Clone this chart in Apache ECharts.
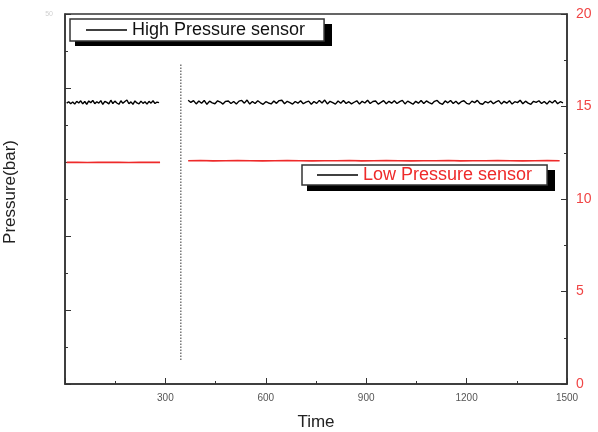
<!DOCTYPE html>
<html>
<head>
<meta charset="utf-8">
<title>Pressure sensors</title>
<script src="https://cdn.jsdelivr.net/npm/echarts@6/dist/echarts.min.js"></script>
<style>
  html, body { margin: 0; padding: 0; background: #fff; }
  #main { width: 598px; height: 432px; }
</style>
</head>
<body>
<div id="main"></div>
<script>
// 时间轴刻度
var timeTicks = [0, 300, 600, 900, 1200, 1500];
var rightTicks = [0, 5, 10, 15, 20];

// 高压传感器 (两段采样)
var highStartA = 5, highStepA = 6;
var highValuesA = [
  15.18, 15.26, 15.15, 15.24, 15.13, 15.28, 15.19, 15.31, 15.14, 15.27,
  15.12, 15.30, 15.20, 15.33, 15.15, 15.26, 15.18, 15.32, 15.11, 15.28,
  15.22, 15.14, 15.34, 15.16, 15.29, 15.19, 15.12, 15.31, 15.17, 15.27,
  15.35, 15.15, 15.25, 15.12, 15.30, 15.19, 15.14, 15.29, 15.17, 15.26,
  15.13, 15.28, 15.18, 15.31, 15.16, 15.24, 15.21
];
var highStartB = 368, highStepB = 8;
var highValuesB = [
  15.34, 15.22, 15.32, 15.14, 15.30, 15.18, 15.33, 15.12, 15.29, 15.20,
  15.15, 15.31, 15.24, 15.13, 15.28, 15.30, 15.16, 15.27, 15.14, 15.29,
  15.33, 15.18, 15.35, 15.13, 15.27, 15.16, 15.31, 15.20, 15.12, 15.26,
  15.19, 15.14, 15.30, 15.17, 15.32, 15.34, 15.15, 15.28, 15.21, 15.13,
  15.27, 15.18, 15.31, 15.15, 15.24, 15.29, 15.12, 15.27, 15.17, 15.33,
  15.19, 15.35, 15.14, 15.28, 15.21, 15.13, 15.30, 15.18, 15.32, 15.16,
  15.26, 15.14, 15.23, 15.31, 15.13, 15.28, 15.19, 15.34, 15.16, 15.27,
  15.30, 15.13, 15.22, 15.32, 15.15, 15.28, 15.18, 15.31, 15.16, 15.26,
  15.33, 15.14, 15.29, 15.21, 15.12, 15.28, 15.18, 15.32, 15.16, 15.30,
  15.21, 15.14, 15.28, 15.33, 15.18, 15.12, 15.30, 15.20, 15.32, 15.16,
  15.28, 15.14, 15.26, 15.31, 15.17, 15.13, 15.29, 15.21, 15.33, 15.16,
  15.12, 15.27, 15.19, 15.30, 15.15, 15.25, 15.32, 15.14, 15.28, 15.18,
  15.31, 15.13, 15.26, 15.21, 15.34, 15.15, 15.29, 15.18, 15.12, 15.28,
  15.22, 15.31, 15.16, 15.27, 15.13, 15.30, 15.19, 15.33, 15.15, 15.26,
  15.20
];

// 低压传感器
var lowStartA = 5, lowStepA = 31;
var lowValuesA = [11.98, 11.99, 11.97, 11.98, 11.99, 11.98, 11.97, 11.98, 11.99, 11.98];
var lowStartB = 368, lowStepB = 37;
var lowValuesB = [
  12.07, 12.08, 12.06, 12.07, 12.08, 12.07, 12.06, 12.07, 12.08, 12.07,
  12.06, 12.07, 12.07, 12.08, 12.06, 12.07, 12.08, 12.07, 12.06, 12.07,
  12.07, 12.08, 12.06, 12.07, 12.07, 12.08, 12.07, 12.06, 12.07, 12.08,
  12.07
];

// 断开位置的虚线
var breakTime = [346, 346];
var breakValues = [1.3, 17.3];

function pairs(start, step, values) {
  return values.map(function (v, i) { return [start + i * step, v]; });
}
function zip(xs, ys) {
  return xs.map(function (x, i) { return [x, ys[i]]; });
}

var highData = pairs(highStartA, highStepA, highValuesA)
  .concat([[null, null]])
  .concat(pairs(highStartB, highStepB, highValuesB));
var lowData = pairs(lowStartA, lowStepA, lowValuesA)
  .concat([[null, null]])
  .concat(pairs(lowStartB, lowStepB, lowValuesB));

var RED = '#ee2a2a';
var AXIS = '#333';
var FONT = 'Liberation Sans, Arial, sans-serif';

var chart = echarts.init(document.getElementById('main'), null, { renderer: 'canvas' });

var legendBox = {
  orient: 'horizontal',
  backgroundColor: '#fff',
  borderColor: AXIS,
  borderWidth: 1.5,
  borderRadius: 0,
  icon: 'rect',
  itemWidth: 41,
  itemHeight: 1.5,
  itemGap: 5,
  selectedMode: false,
  z: 10
};

var option = {
  animation: false,
  backgroundColor: '#fff',
  textStyle: { fontFamily: FONT },
  grid: {
    left: 65, right: 31, top: 14, bottom: 48,
    outerBoundsMode: 'none',
    containLabel: false,
    show: true, borderColor: AXIS, borderWidth: 1.5, backgroundColor: 'transparent'
  },
  // 图例的阴影块
  graphic: [
    { type: 'rect', z: 5, shape: { x: 75, y: 24, width: 257, height: 22 }, style: { fill: '#000' } },
    { type: 'rect', z: 5, shape: { x: 307, y: 170, width: 248, height: 21 }, style: { fill: '#000' } }
  ],
  legend: [
    Object.assign({}, legendBox, {
      left: 70, top: 19,
      padding: [2, 19, 2, 16],
      data: [{ name: 'High Pressure sensor', itemStyle: { color: '#000' } }],
      textStyle: { fontFamily: FONT, fontSize: 18, color: '#111' }
    }),
    Object.assign({}, legendBox, {
      left: 302, top: 165,
      padding: [1, 15, 1, 15],
      data: [{ name: 'Low Pressure sensor', itemStyle: { color: '#000' } }],
      textStyle: { fontFamily: FONT, fontSize: 18, color: RED }
    })
  ],
  xAxis: {
    type: 'value',
    min: timeTicks[0],
    max: timeTicks[timeTicks.length - 1],
    interval: 300,
    name: 'Time',
    nameLocation: 'middle',
    nameGap: 30,
    nameTextStyle: { fontFamily: FONT, fontSize: 17, color: '#222' },
    axisLine: { lineStyle: { color: AXIS, width: 1.5 } },
    axisTick: { inside: true, length: 6, lineStyle: { color: AXIS } },
    minorTick: { show: true, splitNumber: 2, length: 3, lineStyle: { color: AXIS } },
    splitLine: { show: false },
    axisLabel: {
      fontFamily: FONT, fontSize: 10, color: '#555', margin: 9,
      formatter: function (v) { return v === 0 ? '' : String(v); }
    }
  },
  yAxis: [
    {
      type: 'value',
      position: 'left',
      min: 0, max: 50, interval: 10,
      name: 'Pressure(bar)',
      nameLocation: 'middle',
      nameGap: 46,
      nameTextStyle: { fontFamily: FONT, fontSize: 17, color: '#222', padding: [0, 0, 0, 14] },
      axisLine: { show: true, lineStyle: { color: AXIS, width: 1.5 } },
      axisTick: { show: true, inside: true, length: 6, lineStyle: { color: AXIS } },
      minorTick: { show: true, splitNumber: 2, length: 3, lineStyle: { color: AXIS } },
      splitLine: { show: false },
      axisLabel: {
        fontFamily: FONT, fontSize: 7, color: '#d0d0d0', margin: 12,
        formatter: function (v) { return v === 50 ? '50' : ''; }
      }
    },
    {
      type: 'value',
      position: 'right',
      min: rightTicks[0],
      max: rightTicks[rightTicks.length - 1],
      interval: 5,
      axisLine: { show: true, lineStyle: { color: AXIS, width: 1.5 } },
      axisTick: { show: true, inside: true, length: 6, lineStyle: { color: AXIS } },
      minorTick: { show: true, splitNumber: 2, length: 3, lineStyle: { color: AXIS } },
      splitLine: { show: false },
      axisLabel: { fontFamily: FONT, fontSize: 14, color: '#f04545', margin: 9 }
    }
  ],
  series: [
    {
      name: 'High Pressure sensor',
      type: 'line',
      yAxisIndex: 1,
      data: highData,
      showSymbol: false,
      connectNulls: false,
      lineStyle: { color: '#000', width: 1.4 },
      itemStyle: { color: '#000' }
    },
    {
      name: 'Low Pressure sensor',
      type: 'line',
      yAxisIndex: 1,
      data: lowData,
      showSymbol: false,
      connectNulls: false,
      lineStyle: { color: RED, width: 1.6 },
      itemStyle: { color: RED }
    },
    {
      name: 'break',
      type: 'line',
      yAxisIndex: 1,
      data: zip(breakTime, breakValues),
      showSymbol: false,
      lineStyle: { color: '#777', width: 1.5, type: [1.5, 1.5] }
    }
  ]
};

chart.setOption(option);
</script>
</body>
</html>
